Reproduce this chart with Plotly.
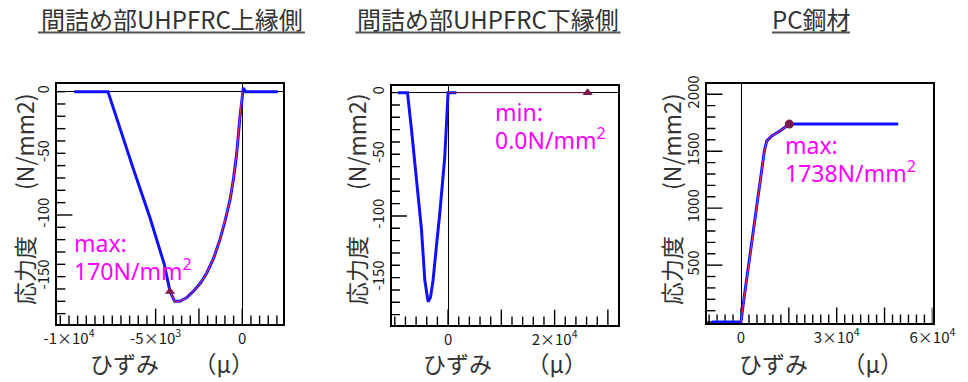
import plotly.graph_objects as go

# ---------------- data ----------------
# Panel 1: 間詰め部UHPFRC上縁側  (strain in μ, stress in N/mm2)
p1_strain = [-9700, -7750, -6300, -5330, -4500, -4170, -3900, -3600, -3200, -2830,
             -2400, -2050, -1650, -1290, -1000, -710, -500, -320, -130, 0, 60, 200, 2050]
p1_stress = [0, 0, -62, -102, -140, -162, -170, -170, -167, -162,
             -155, -147, -135, -120, -105, -88, -70, -50, -20, 0, 3, 0, 0]
p1_path_start = 5          # index where the thin red loading path starts
p1_path_end = 20           # index where it ends (exclusive)
p1_peak_strain = [-4170]
p1_peak_stress = [-162]
p1_note = ["max:", "170N/mm<sup>2</sup>"]

# Panel 2: 間詰め部UHPFRC下縁側
p2_strain = [-9380, -7620, -6870, -5930, -4990, -4370, -3750, -3300, -2810, -2200,
             -1560, -620, -300, 0, 1560]
p2_stress = [0, 0, -30, -71, -111, -152, -169.5, -166, -152, -125,
             -98, -52, -30, 0, 0]
p2_path_strain = [0, 26200]
p2_path_stress = [0, 0]
p2_peak_strain = [26200]
p2_peak_stress = [0]
p2_note = ["min:", "0.0N/mm<sup>2</sup>"]

# Panel 3: PC鋼材
p3_strain = [-9200, 0, 720, 2820, 5430, 7310, 8050, 9620, 12200, 15150, 49300]
p3_stress = [0, 0, 162, 574, 1103, 1500, 1589, 1633, 1677, 1738, 1738]
p3_path_end = 10
p3_peak_strain = [15150]
p3_peak_stress = [1738]
p3_note = ["max:", "1738N/mm<sup>2</sup>"]

titles = ["間詰め部UHPFRC上縁側", "間詰め部UHPFRC下縁側", "PC鋼材"]
y_title = "応力度\u3000\u3000(N/mm2)"
x_title = "ひずみ\u3000\u3000（μ）"

# tick labels
p1_xlabels = {-10000: "-1×10<sup>4</sup>", -5000: "-5×10<sup>3</sup>", 0: "0"}
p12_ylabels = {-150: "-150", -100: "-100", -50: "-50", 0: "0"}
p2_xlabels = {0: "0", 20000: "2×10<sup>4</sup>"}
p3_xlabels = {0: "0", 30000: "3×10<sup>4</sup>", 60000: "6×10<sup>4</sup>"}
p3_ylabels = {500: "500", 1000: "1000", 1500: "1500", 2000: "2000"}
# tick-mark spacing and positions of the longer tick marks
p1_xstep, p12_ystep, p2_xstep, p3_xstep, p3_ystep = 500, 10, 2000, 2500, 100
p1_xlong = [-5000, -2500, 0]
p12_ylong = [-100]
p2_xlong = [0, 10000, 20000, 30000]
p3_xlong = [0, 15000, 30000, 45000, 60000]
p3_ylong = [500, 1000, 1500, 2000]

# ---------------- styling ----------------
W, H = 968, 382
BLUE = "#1010ff"
RED = "#ff3050"
PEAK = "#7a1a4e"
MAGENTA = "#ff00ff"
TXT = "#333333"
FONT = "Noto Sans CJK JP"
SHORT, LONG = 6, 11   # inward tick lengths in px

r1x, r1y = [-10690, 2350], [-188.4, 6.2]
r2x, r2y = [-10620, 31900], [-188.4, 5.4]
r3x, r3y = [-10660, 60030], [-8, 2090]

fig = go.Figure()


def tick_positions(rng, step):
    lo = int(rng[0] // step) * step
    return [v for v in range(lo, int(rng[1]) + step, step) if rng[0] < v < rng[1]]


def add_ticks(xa, ya, rx, ry, xstep, ystep, xlong, ylong):
    # tick marks drawn as line markers centred on the frame; the outer half is clipped away
    xs = tick_positions(rx, xstep)
    ys = tick_positions(ry, ystep)
    for vals, is_x in ((xs, True), (ys, False)):
        short = [v for v in vals if v not in (xlong if is_x else ylong)]
        longv = [v for v in (xlong if is_x else ylong) if (rx if is_x else ry)[0] < v < (rx if is_x else ry)[1]]
        for group, ln in ((short, SHORT), (longv, LONG)):
            if not group:
                continue
            fig.add_trace(go.Scatter(
                x=group if is_x else [rx[0]] * len(group),
                y=[ry[0]] * len(group) if is_x else group,
                mode="markers", xaxis=xa, yaxis=ya, cliponaxis=True, hoverinfo="skip",
                marker=dict(symbol="line-ns" if is_x else "line-ew", size=2 * ln,
                            color="black", line=dict(color="black", width=1.4))))


def add_panel(k, xs, ys, path_x, path_y, path_color, px, py, marker_symbol, ticks):
    xa = "x" if k == 1 else f"x{k}"
    ya = "y" if k == 1 else f"y{k}"
    add_ticks(xa, ya, *ticks)
    fig.add_trace(go.Scatter(x=xs, y=ys, mode="lines", xaxis=xa, yaxis=ya,
                             line=dict(color=BLUE, width=3), hoverinfo="skip"))
    fig.add_trace(go.Scatter(x=path_x, y=path_y, mode="lines", xaxis=xa, yaxis=ya,
                             line=dict(color=path_color, width=1), hoverinfo="skip"))
    fig.add_trace(go.Scatter(x=px, y=py, mode="markers", xaxis=xa, yaxis=ya,
                             marker=dict(color=PEAK, size=9, symbol=marker_symbol),
                             hoverinfo="skip"))


add_panel(1, p1_strain, p1_stress,
          p1_strain[p1_path_start:p1_path_end], p1_stress[p1_path_start:p1_path_end],
          RED, p1_peak_strain, p1_peak_stress, "triangle-up",
          (r1x, r1y, p1_xstep, p12_ystep, p1_xlong, p12_ylong))
add_panel(2, p2_strain, p2_stress, p2_path_strain, p2_path_stress,
          PEAK, p2_peak_strain, p2_peak_stress, "triangle-up",
          (r2x, r2y, p2_xstep, p12_ystep, p2_xlong, p12_ylong))
add_panel(3, p3_strain, p3_stress,
          p3_strain[1:p3_path_end], p3_stress[1:p3_path_end],
          RED, p3_peak_strain, p3_peak_stress, "circle",
          (r3x, r3y, p3_xstep, p3_ystep, p3_xlong, p3_ylong))


def axis(domain, rng, labels, anchor, angle=0):
    vals = sorted(labels)
    return dict(
        domain=domain, range=rng, anchor=anchor,
        tickmode="array", tickvals=vals, ticktext=[labels[v] for v in vals],
        tickangle=angle, ticks="",
        showline=True, linecolor="black", linewidth=1.5, mirror=True,
        showgrid=False, zeroline=True, zerolinecolor="black", zerolinewidth=1.3,
        automargin=False, fixedrange=True,
        tickfont=dict(family=FONT, size=15, color="#1a1a1a"),
    )


def px2x(p):
    return p / W


def px2y(p):
    return 1 - p / H


fig.update_layout(
    width=W, height=H, margin=dict(l=0, r=0, t=0, b=0),
    paper_bgcolor="white", plot_bgcolor="white", showlegend=False,
    xaxis=axis([px2x(57), px2x(283)], r1x, p1_xlabels, "y"),
    yaxis=axis([px2y(324), px2y(84)], r1y, p12_ylabels, "x", -90),
    xaxis2=axis([px2x(391.5), px2x(618)], r2x, p2_xlabels, "y2"),
    yaxis2=axis([px2y(325), px2y(86)], r2y, p12_ylabels, "x2", -90),
    xaxis3=axis([px2x(707), px2x(932.5)], r3x, p3_xlabels, "y3"),
    yaxis3=axis([px2y(323), px2y(84)], r3y, p3_ylabels, "x3", -90),
)

annotations = []
shapes = []
# panel titles (underlined)
title_cx = [171.5, 488, 811]
title_w = [267, 265, 78]
for t, cx, w in zip(titles, title_cx, title_w):
    annotations.append(dict(text=t, x=px2x(cx), y=px2y(19), xref="paper", yref="paper",
                            showarrow=False, xanchor="center", yanchor="middle",
                            font=dict(family=FONT, size=24, color=TXT)))
    shapes.append(dict(type="line", xref="paper", yref="paper",
                       x0=px2x(cx - w / 2), x1=px2x(cx + w / 2), y0=px2y(32.5), y1=px2y(32.5),
                       line=dict(color="#555555", width=2)))

# axis titles
for cx in [24, 356, 671]:
    annotations.append(dict(text=y_title, x=px2x(cx), y=px2y(199), xref="paper", yref="paper",
                            showarrow=False, textangle=-90, xanchor="center", yanchor="middle",
                            font=dict(family=FONT, size=23, color=TXT)))
for cx in [172, 505, 821]:
    annotations.append(dict(text=x_title, x=px2x(cx), y=px2y(363), xref="paper", yref="paper",
                            showarrow=False, xanchor="center", yanchor="middle",
                            font=dict(family=FONT, size=23, color=TXT)))

# peak notes
notes = [(p1_note, 72, 243), (p2_note, 493, 112), (p3_note, 783, 145)]
for lines, lx, ly in notes:
    for i, ln in enumerate(lines):
        annotations.append(dict(text=ln, x=px2x(lx), y=px2y(ly + 27 * i), xref="paper", yref="paper",
                                showarrow=False, xanchor="left", yanchor="middle",
                                font=dict(family="Noto Sans", size=23, color=MAGENTA)))

fig.update_layout(annotations=annotations, shapes=shapes)
fig.write_html("out.html", config={"displayModeBar": False},
               post_script="document.body.style.margin='0';document.body.style.overflow='hidden';")
